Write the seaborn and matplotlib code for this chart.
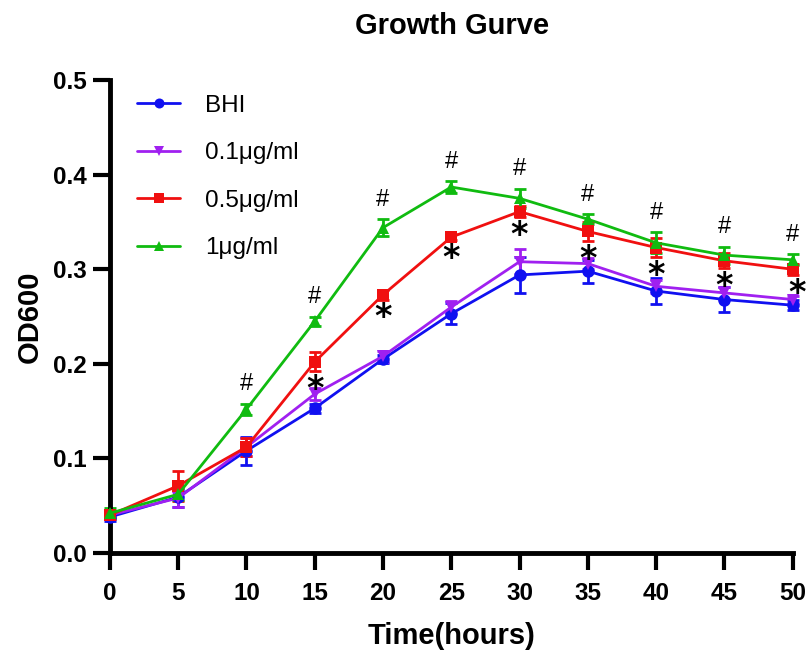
import numpy as np
import pandas as pd
import matplotlib
matplotlib.use("Agg")
import matplotlib.pyplot as plt
import seaborn as sns

time = [0, 5, 10, 15, 20, 25, 30, 35, 40, 45, 50]
series_names = ["BHI", "0.1μg/ml", "0.5μg/ml", "1μg/ml"]
bhi = [0.038, 0.059, 0.108, 0.153, 0.205, 0.253, 0.294, 0.298, 0.277, 0.268, 0.262]
c01 = [0.040, 0.058, 0.112, 0.168, 0.208, 0.260, 0.308, 0.306, 0.282, 0.275, 0.268]
c05 = [0.040, 0.071, 0.112, 0.202, 0.273, 0.334, 0.361, 0.340, 0.323, 0.309, 0.300]
c1 = [0.042, 0.062, 0.152, 0.245, 0.344, 0.387, 0.375, 0.353, 0.328, 0.315, 0.310]
bhi_err = [0.004, 0.010, 0.015, 0.005, 0.004, 0.011, 0.019, 0.012, 0.014, 0.013, 0.005]
c01_err = [0.004, 0.009, 0.010, 0.006, 0.006, 0.006, 0.013, 0.006, 0.007, 0.006, 0.004]
c05_err = [0.004, 0.016, 0.010, 0.010, 0.005, 0.003, 0.006, 0.010, 0.010, 0.008, 0.006]
c1_err = [0.005, 0.006, 0.006, 0.005, 0.009, 0.006, 0.010, 0.005, 0.011, 0.009, 0.006]
hash_times = [10, 15, 20, 25, 30, 35, 40, 45, 50]
star_times = [15, 20, 25, 30, 35, 40, 45, 50]

colors = ["#1010F0", "#A020F0", "#F01010", "#10BB10"]
markers = ["o", "v", "s", "^"]
vals = [bhi, c01, c05, c1]
errs = [bhi_err, c01_err, c05_err, c1_err]

rows = []
for name, v in zip(series_names, vals):
    for t, y in zip(time, v):
        rows.append({"Time": t, "OD600": y, "Group": name})
df = pd.DataFrame(rows)

sns.set_style("ticks")
plt.rcParams["font.family"] = ["Liberation Sans", "DejaVu Sans"]
plt.rcParams["text.color"] = "black"
plt.rcParams["axes.labelcolor"] = "black"
plt.rcParams["xtick.color"] = "black"
plt.rcParams["ytick.color"] = "black"
plt.rcParams["axes.edgecolor"] = "black"

fig = plt.figure(figsize=(8.08, 6.52), dpi=100)
ax = fig.add_axes([0.136, 0.152, 0.845, 0.725])

for name, v, e, col in zip(series_names, vals, errs, colors):
    ax.errorbar(time, v, yerr=e, fmt="none", ecolor=col, elinewidth=2,
                capsize=4, capthick=2, zorder=2)

sns.lineplot(data=df, x="Time", y="OD600", hue="Group", style="Group",
             hue_order=series_names, style_order=series_names,
             palette=colors, markers=markers, dashes=False,
             markersize=9, markeredgewidth=0, linewidth=2, ax=ax, zorder=3)

for t in hash_times:
    i = time.index(t)
    ax.text(t, c1[i] + c1_err[i] + 0.009, "#", ha="center", va="bottom",
            fontsize=17, color="black")
for t in star_times:
    i = time.index(t)
    ax.text(t + (0.3 if t == 50 else 0), c05[i] - c05_err[i] - 0.002, "*",
            ha="center", va="top", fontsize=24, fontweight="bold",
            color="black", family="DejaVu Sans")

ax.set_xlim(0, 50)
ax.set_ylim(0, 0.5)
ax.set_xticks(np.arange(0, 51, 5))
ax.set_yticks(np.arange(0, 0.51, 0.1))
ax.set_yticklabels([f"{v:.1f}" for v in np.arange(0, 0.51, 0.1)])
for lbl in ax.get_xticklabels() + ax.get_yticklabels():
    lbl.set_fontweight("bold")
    lbl.set_fontsize(17.5)
ax.tick_params(width=3, length=12, direction="out", pad=5)
ax.tick_params(axis="x", pad=9)
for s in ["top", "right"]:
    ax.spines[s].set_visible(False)
for s in ["left", "bottom"]:
    ax.spines[s].set_linewidth(3.5)
for art in ax.lines + ax.collections:
    art.set_clip_on(False)

ax.set_xlabel("Time(hours)", fontsize=21, fontweight="bold", labelpad=12)
ax.set_ylabel("OD600", fontsize=21, fontweight="bold", labelpad=6)
fig.suptitle("Growth Gurve", fontsize=21, fontweight="bold", x=0.56, y=0.982)

leg = ax.legend(loc="upper left", frameon=False, fontsize=17.5, handlelength=1.8,
                labelspacing=1.05, borderaxespad=0.0, handletextpad=1.0,
                bbox_to_anchor=(0.025, 0.99), markerscale=0.8)

fig.savefig("out.png", dpi=100)
